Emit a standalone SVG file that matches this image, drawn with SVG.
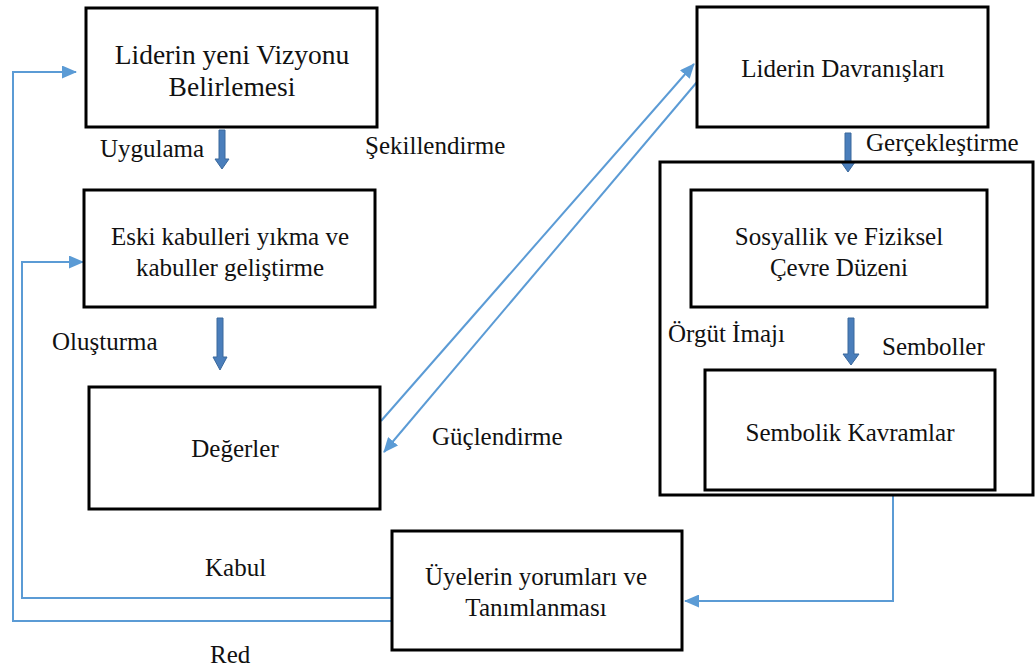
<svg xmlns="http://www.w3.org/2000/svg" width="1035" height="670" viewBox="0 0 1035 670">
  <style>
    .box { fill: #ffffff; stroke: #000000; stroke-width: 3; }
    .frame { fill: none; stroke: #000000; stroke-width: 3; }
    .t { font-family: "Liberation Serif", "Times New Roman", serif; font-size: 25px; fill: #111111; }
    .big { font-size: 27.5px; }
    .c { text-anchor: middle; }
    .link { fill: none; stroke: #5B9BD5; stroke-width: 2; }
    .flow { fill: #4A7EBB; stroke: #3A689C; stroke-width: 1; }
  </style>
  <defs>
    <marker id="tip" markerUnits="userSpaceOnUse" markerWidth="15" markerHeight="13" viewBox="0 0 15 13" refX="14" refY="6.5" orient="auto">
      <path d="M0,0 L15,6.5 L0,13 z" fill="#5B9BD5"/>
    </marker>
  </defs>

  <rect width="1035" height="670" fill="#ffffff"/>

  <!-- connectors -->
  <g id="connectors">
    <!-- rejection loop back to the vision -->
    <polyline class="link" points="392,621 13,621 13,72 76,72" marker-end="url(#tip)"/>
    <!-- acceptance loop back to assumptions -->
    <polyline class="link" points="392,598 22,598 22,262 83,262" marker-end="url(#tip)"/>
    <!-- values -> leader behaviour -->
    <line class="link" x1="381" y1="421" x2="694" y2="64" marker-end="url(#tip)"/>
    <!-- leader behaviour -> values -->
    <line class="link" x1="697" y1="82" x2="384" y2="452" marker-end="url(#tip)"/>
    <!-- symbolic frame -> members -->
    <polyline class="link" points="893,495 893,601 685,601" marker-end="url(#tip)"/>

    <!-- thick flow arrows -->
    <path class="flow" d="M219,130 H225 V159 H229 L222,169 L215,159 H219 Z"/>
    <path class="flow" d="M217,318 H223 V357 H227 L220,370 L213,357 H217 Z"/>
    <path class="flow" d="M845,133 H851 V162 H855 L848,172 L841,162 H845 Z"/>
    <path class="flow" d="M848,318 H854 V354 H859 L851,365 L843,354 H848 Z"/>
  </g>

  <!-- nodes -->
  <g id="vision">
    <rect class="box" x="86" y="8" width="291" height="119"/>
    <text class="t big c" x="232" y="64">Liderin yeni Vizyonu</text>
    <text class="t big c" x="232" y="96">Belirlemesi</text>
  </g>

  <g id="assumptions">
    <rect class="box" x="84" y="190" width="291" height="117"/>
    <text class="t c" x="230" y="245">Eski kabulleri yıkma ve</text>
    <text class="t c" x="230" y="276">kabuller geliştirme</text>
  </g>

  <g id="values">
    <rect class="box" x="89" y="387" width="291" height="122"/>
    <text class="t c" x="235" y="457">Değerler</text>
  </g>

  <g id="behaviour">
    <rect class="box" x="697" y="7" width="291" height="120"/>
    <text class="t c" x="843" y="77">Liderin Davranışları</text>
  </g>

  <g id="symbolic-frame">
    <rect class="frame" x="660" y="162" width="373" height="333"/>
  </g>

  <g id="environment">
    <rect class="box" x="691" y="190" width="296" height="117"/>
    <text class="t c" x="839" y="245">Sosyallik ve Fiziksel</text>
    <text class="t c" x="839" y="276">Çevre Düzeni</text>
  </g>

  <g id="symbolic-concepts">
    <rect class="box" x="705" y="370" width="290" height="120"/>
    <text class="t c" x="850" y="441">Sembolik Kavramlar</text>
  </g>

  <g id="members">
    <rect class="box" x="392" y="531" width="290" height="119"/>
    <text class="t c" x="536" y="585">Üyelerin yorumları ve</text>
    <text class="t c" x="536" y="616">Tanımlanması</text>
  </g>

  <!-- connector labels -->
  <g id="labels">
    <text class="t" x="100" y="157">Uygulama</text>
    <text class="t" x="365" y="154">Şekillendirme</text>
    <text class="t" x="52" y="350">Oluşturma</text>
    <text class="t" x="866" y="151">Gerçekleştirme</text>
    <text class="t" x="668" y="342">Örgüt İmajı</text>
    <text class="t" x="882" y="355">Semboller</text>
    <text class="t" x="432" y="445">Güçlendirme</text>
    <text class="t" x="205" y="576">Kabul</text>
    <text class="t" x="210" y="663">Red</text>
  </g>
</svg>
